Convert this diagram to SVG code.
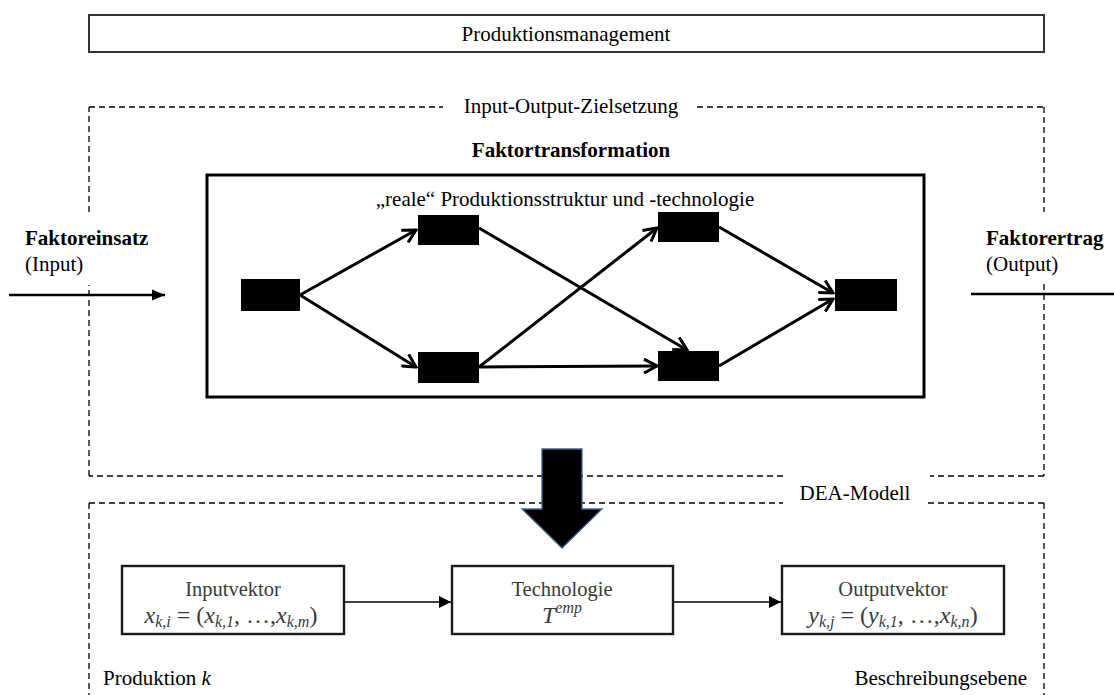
<svg xmlns="http://www.w3.org/2000/svg" width="1114" height="695" viewBox="0 0 1114 695">
  <style>
    text { font-family: "Liberation Serif", "Times New Roman", serif; font-size: 21px; fill: #000; }
    .b { font-weight: bold; }
    .mid { text-anchor: middle; }
    .dash { fill: none; stroke: #000; stroke-width: 1.3; stroke-dasharray: 6 4; }
    .blk { fill: #000; }
    .edge { fill: none; stroke: #000; stroke-width: 3; }
    .vec { fill: #fff; stroke: #1a1a1a; stroke-width: 2.4; }
    .vt { fill: #3a3a3a; font-size: 20.5px; }
    .math { fill: #3a3a3a; font-size: 24px; }
    .it { font-style: italic; }
    .sub { font-size: 16px; font-style: italic; }
    .thin { fill: none; stroke: #000; stroke-width: 1.5; }
  </style>
  <defs>
    <marker id="open" viewBox="0 0 16 16" refX="14" refY="8" markerWidth="16" markerHeight="16" markerUnits="userSpaceOnUse" orient="auto">
      <path d="M1,1 L14,8 L1,15" fill="none" stroke="#000" stroke-width="3" stroke-linejoin="miter"/>
    </marker>
    <marker id="solid" viewBox="0 0 12 12" refX="12" refY="6" markerWidth="12" markerHeight="12" markerUnits="userSpaceOnUse" orient="auto">
      <path d="M0,0 L12,6 L0,12 Z" fill="#000"/>
    </marker>
    <marker id="solidBig" viewBox="0 0 12 12" refX="12" refY="6" markerWidth="13" markerHeight="13" markerUnits="userSpaceOnUse" orient="auto">
      <path d="M0,1 L12,6 L0,11 Z" fill="#000"/>
    </marker>
  </defs>

  <!-- management frame -->
  <g id="management">
    <rect x="89" y="15" width="955" height="37" fill="#fff" stroke="#333" stroke-width="2"/>
    <text x="566" y="41" class="mid">Produktionsmanagement</text>
  </g>

  <!-- input-output objective frame (dashed, broken for labels) -->
  <g id="zielsetzung">
    <path class="dash" d="M89,107 H443 M697,107 H1044 M1044,107 V212 M1044,284 V476 M1044,476 H930 M783,476 H89 M89,476 V285 M89,212 V107"/>
    <text x="571" y="113" class="mid">Input-Output-Zielsetzung</text>
  </g>

  <!-- DEA model frame -->
  <g id="dea">
    <path class="dash" d="M89,503 H783 M928,503 H1044 M1044,503 V700 M89,503 V700"/>
    <text x="855" y="500" class="mid">DEA-Modell</text>
  </g>

  <!-- factor input / output -->
  <g id="faktoreinsatz">
    <text x="25" y="245" class="b">Faktoreinsatz</text>
    <text x="25" y="271">(Input)</text>
  </g>
  <g id="faktorertrag">
    <text x="986" y="245" class="b">Faktorertrag</text>
    <text x="986" y="271">(Output)</text>
  </g>

  <!-- transformation box -->
  <g id="transformation">
    <text x="571" y="157" class="mid b">Faktortransformation</text>
    <rect x="207" y="175" width="717" height="222" fill="none" stroke="#000" stroke-width="3"/>
    <text x="565" y="206" class="mid">„reale“ Produktionsstruktur und -technologie</text>
  </g>

  <!-- production units -->
  <g id="unitA"><rect class="blk" x="241" y="279" width="59" height="32"/></g>
  <g id="unitB"><rect class="blk" x="418" y="215" width="61" height="30"/></g>
  <g id="unitC"><rect class="blk" x="418" y="352" width="61" height="31"/></g>
  <g id="unitD"><rect class="blk" x="658" y="212" width="61" height="30"/></g>
  <g id="unitE"><rect class="blk" x="658" y="351" width="61" height="30"/></g>
  <g id="unitF"><rect class="blk" x="835" y="279" width="62" height="32"/></g>

  <!-- bottom level: vectors and technology -->
  <g id="inputvektor">
    <rect class="vec" x="122" y="566" width="222" height="68"/>
    <text x="233" y="596" class="mid vt">Inputvektor</text>
    <text x="231" y="623" class="mid math"><tspan class="it">x</tspan><tspan class="sub" dy="4">k,i</tspan><tspan dy="-4"> = (</tspan><tspan class="it">x</tspan><tspan class="sub" dy="4">k,1</tspan><tspan dy="-4">, …,</tspan><tspan class="it">x</tspan><tspan class="sub" dy="4">k,m</tspan><tspan dy="-4">)</tspan></text>
  </g>
  <g id="technologie">
    <rect class="vec" x="452" y="566" width="221" height="68"/>
    <text x="562" y="596" class="mid vt">Technologie</text>
    <text x="562" y="623" class="mid math"><tspan class="it">T</tspan><tspan class="sub" dy="-10">emp</tspan></text>
  </g>
  <g id="outputvektor">
    <rect class="vec" x="782" y="566" width="222" height="68"/>
    <text x="893" y="596" class="mid vt">Outputvektor</text>
    <text x="893" y="623" class="mid math"><tspan class="it">y</tspan><tspan class="sub" dy="4">k,j</tspan><tspan dy="-4"> = (</tspan><tspan class="it">y</tspan><tspan class="sub" dy="4">k,1</tspan><tspan dy="-4">, …,</tspan><tspan class="it">x</tspan><tspan class="sub" dy="4">k,n</tspan><tspan dy="-4">)</tspan></text>
  </g>

  <!-- level labels -->
  <g id="labels">
    <text x="103" y="685">Produktion <tspan class="it">k</tspan></text>
    <text x="1027" y="685" style="text-anchor:end">Beschreibungsebene</text>
  </g>

  <!-- connectors -->
  <g id="connectors">
    <line x1="9" y1="295" x2="165" y2="295" stroke="#000" stroke-width="2.5" marker-end="url(#solidBig)"/>
    <line x1="971" y1="294" x2="1114" y2="294" stroke="#000" stroke-width="2.5"/>
    <line class="edge" x1="300" y1="295" x2="416" y2="230" marker-end="url(#open)"/>
    <line class="edge" x1="300" y1="295" x2="416" y2="367" marker-end="url(#open)"/>
    <line class="edge" x1="479" y1="228" x2="687" y2="350" marker-end="url(#open)"/>
    <line class="edge" x1="479" y1="367" x2="657" y2="228" marker-end="url(#open)"/>
    <line class="edge" x1="479" y1="367" x2="657" y2="366" marker-end="url(#open)"/>
    <line class="edge" x1="719" y1="227" x2="833" y2="293" marker-end="url(#open)"/>
    <line class="edge" x1="719" y1="366" x2="833" y2="299" marker-end="url(#open)"/>
    <line class="thin" x1="344" y1="602" x2="451" y2="602" marker-end="url(#solid)"/>
    <line class="thin" x1="673" y1="602" x2="781" y2="602" marker-end="url(#solid)"/>
    <!-- block arrow from transformation down to the DEA level -->
    <polygon points="542,449 582,449 582,509 602,509 562,548 522,509 542,509" fill="#000" stroke="#41658a" stroke-width="1.3" stroke-linejoin="miter"/>
  </g>
</svg>
